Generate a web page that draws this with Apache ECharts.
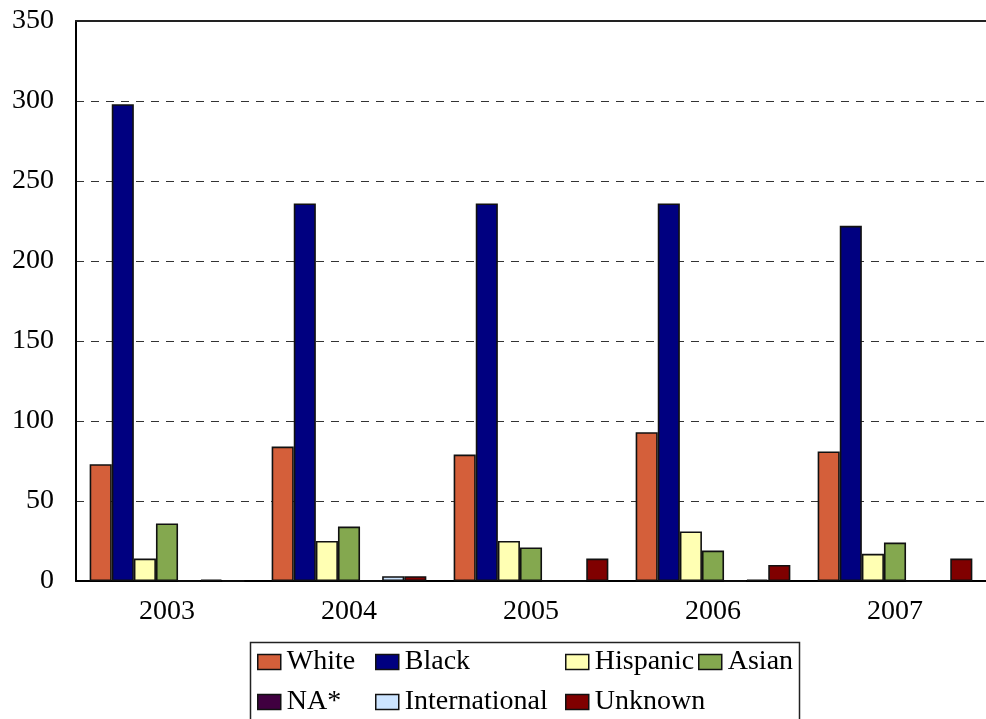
<!DOCTYPE html>
<html><head><meta charset="utf-8">
<script src="https://cdn.jsdelivr.net/npm/echarts@6/dist/echarts.min.js"></script>
<style>html,body{margin:0;padding:0;background:#fff;}#c{width:986px;height:719px;}</style>
</head><body><div id="c"></div>
<script>
var years = ['2003','2004','2005','2006','2007'];
var white = [73, 84, 79, 93, 81];
var black = [298, 236, 236, 236, 222];
var hispanic = [14, 25, 25, 31, 17];
var asian = [36, 34, 21, 19, 24];
var na = [0, 0, 0, 0, 0];
var international = [1, 3, 0, 1, 0];
var unknown = [0, 3, 14, 10, 14];
var yTicks = [0, 50, 100, 150, 200, 250, 300, 350];

var FONT = '"Liberation Serif", "Times New Roman", serif';
var seriesDefs = [
  ['White', white, '#D45F3A'],
  ['Black', black, '#000080'],
  ['Hispanic', hispanic, '#FFFFB3'],
  ['Asian', asian, '#84A84F'],
  ['NA*', na, '#400040'],
  ['International', international, '#CCE4FF'],
  ['Unknown', unknown, '#800000']
];
var series = seriesDefs.map(function(d){
  return {
    name: d[0], type: 'bar', data: d[1],
    barGap: '0%', barCategoryGap: '15%',
    itemStyle: {color: d[2], borderColor: '#111', borderWidth: 1.6},
    emphasis: {disabled: true}, animation: false
  };
});
function legendCol(left, names){
  return {
    orient: 'vertical', left: left, top: 648, height: 120, padding: 0,
    itemWidth: 23, itemHeight: 15,
    itemGap: 12, data: names, icon: 'rect', selectedMode: false,
    itemStyle: {borderColor: '#111', borderWidth: 1.5},
    textStyle: {fontFamily: FONT, fontSize: 28, color: '#000', lineHeight: 28, padding: [0,0,0,1]}
  };
}
var chart = echarts.init(document.getElementById('c'), null, {renderer: 'canvas'});
chart.setOption({
  animation: false,
  grid: {left: 76, top: 21, width: 915, height: 560},
  xAxis: [{
    type: 'category', data: years,
    axisLine: {show: true, lineStyle: {color: '#000', width: 2}},
    axisTick: {show: false},
    axisLabel: {fontFamily: FONT, fontSize: 28, color: '#000', margin: 17}
  }, {
    type: 'category', data: years, position: 'top',
    axisLine: {show: true, lineStyle: {color: '#222', width: 2}},
    axisTick: {show: false}, axisLabel: {show: false}
  }],
  yAxis: {
    type: 'value', min: yTicks[0], max: yTicks[yTicks.length-1], interval: 50,
    axisLine: {show: true, lineStyle: {color: '#000', width: 2}},
    axisTick: {show: false},
    axisLabel: {fontFamily: FONT, fontSize: 28, color: '#000', margin: 22},
    splitLine: {show: true, lineStyle: {color: '#333', type: [8, 7], width: 1.2}}
  },
  legend: [
    legendCol(257, ['White', 'NA*']),
    legendCol(375, ['Black', 'International']),
    legendCol(565, ['Hispanic', 'Unknown']),
    legendCol(698, ['Asian'])
  ],
  graphic: [{
    type: 'rect', left: 248, top: 640,
    shape: {width: 549, height: 100},
    style: {fill: 'none', stroke: '#222', lineWidth: 1.5}
  }],
  series: series
});
</script></body></html>
